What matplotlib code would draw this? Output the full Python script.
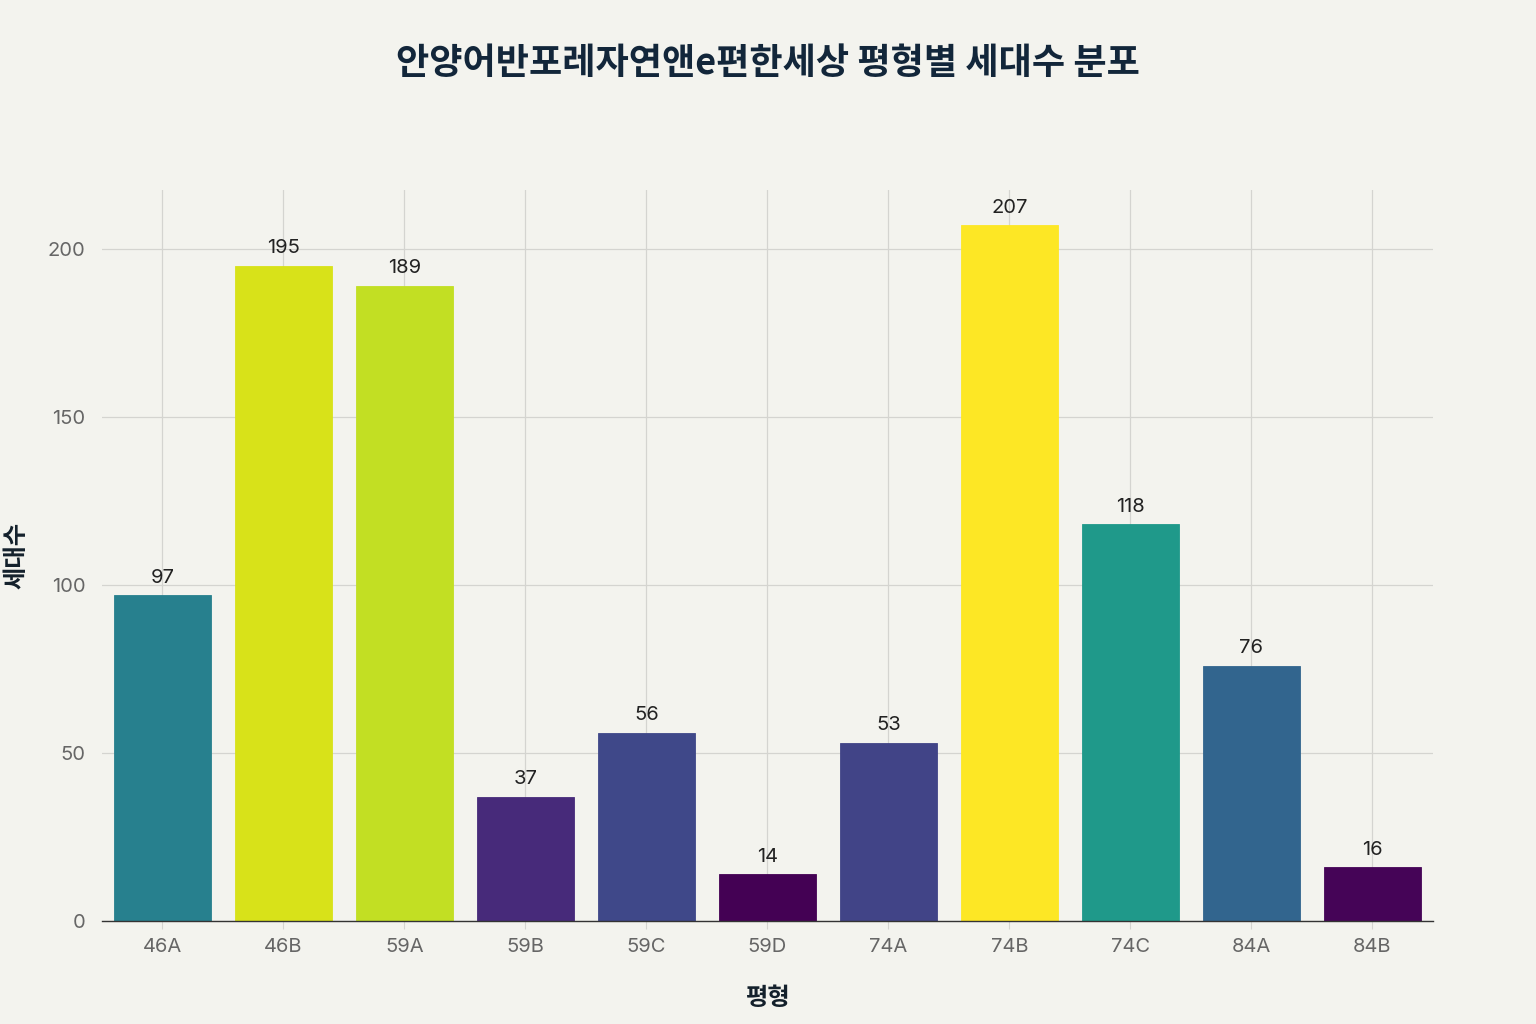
import matplotlib
matplotlib.use('Agg')
from matplotlib import pyplot as plt
import numpy as np

types = ['46A', '46B', '59A', '59B', '59C', '59D', '74A', '74B', '74C', '84A', '84B']
counts = [97, 195, 189, 37, 56, 14, 53, 207, 118, 76, 16]

title = '안양어반포레자연앤e편한세상 평형별 세대수 분포'
xlabel = '평형'
ylabel = '세대수'

bg = '#f3f3ee'
plt.rcParams['font.family'] = ['Inter', 'Noto Sans CJK KR', 'DejaVu Sans']

fig = plt.figure(figsize=(15.36, 10.24), dpi=100, facecolor=bg)
ax = fig.add_axes([0.0664, 0.1006, 0.8665, 0.7139], facecolor=bg)

vals = np.array(counts, dtype=float)
norm = (vals - vals.min()) / (vals.max() - vals.min())
colors = plt.cm.viridis(norm)

x = np.arange(len(types))
bars = ax.bar(x, counts, width=0.8, color=colors, edgecolor=colors, linewidth=0.6, zorder=3)

for xi, v in zip(x, counts):
    ax.text(xi, v + 2.5, str(v), ha='center', va='bottom', fontsize=14.5, color='#222222', zorder=4)

ax.set_xlim(-0.5, len(types) - 0.5)
ax.set_ylim(0, 217.5)
ax.set_xticks(x)
ax.set_xticklabels(types)
ax.set_yticks([0, 50, 100, 150, 200])

ax.grid(True, color='#d4d4d0', linewidth=0.9, zorder=0)
for s in ['top', 'right', 'left']:
    ax.spines[s].set_visible(False)
ax.spines['bottom'].set_color('#333333')
ax.spines['bottom'].set_linewidth(1.0)
ax.spines['bottom'].set_zorder(5)

ax.tick_params(axis='x', colors='#666666', labelsize=14.5, length=6, color='#d4d4d0', pad=6)
ax.tick_params(axis='y', colors='#666666', labelsize=14.5, length=0, pad=12)

ax.set_xlabel(xlabel, fontsize=17.5, fontweight='bold', color='#13202b', labelpad=22,
              family=['Noto Sans CJK KR'])
ax.set_ylabel(ylabel, fontsize=17.5, fontweight='bold', color='#13202b', labelpad=14,
              family=['Noto Sans CJK KR'])

fig.text(0.5, 0.938, title, ha='center', va='center', fontsize=26, fontweight='bold',
         color='#12263a', family=['Noto Sans CJK KR'])

plt.savefig('out.png', dpi=100, facecolor=bg)
